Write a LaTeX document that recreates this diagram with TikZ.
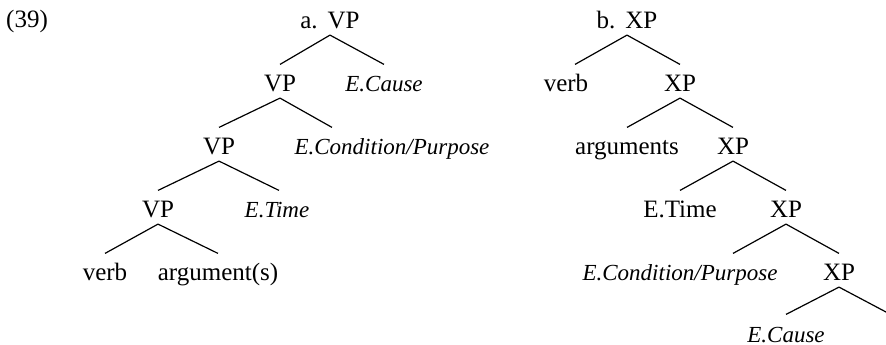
\documentclass[tikz,border=0pt]{standalone}
\usepackage{fontspec}
\setmainfont{Liberation Serif}

\begin{document}
\begin{tikzpicture}[x=0.5pt, y=-0.5pt, line width=0.6pt,
    every node/.style={font=\fontsize{12.5}{14}\selectfont, inner sep=0pt, text height=13pt, text depth=3.25pt, anchor=base},
    ex/.style={font=\fontsize{11.5}{14}\selectfont\itshape}]
    \useasboundingbox (0,0) rectangle (886,344);

    \node (exnum) at (27,27) {(39)};

    % tree a
    \node (aroot) at (330,28) {a.\hspace{0.4em}VP};
    \node (avp1) at (280,91) {VP};
    \node[ex] (acause) at (384,91) {E.Cause};
    \node (avp2) at (219,154) {VP};
    \node[ex] (acond) at (392,154) {E.Condition/Purpose};
    \node (avp3) at (158,217) {VP};
    \node[ex] (atime) at (277,217) {E.Time};
    \node (averb) at (105,280) {verb};
    \node (aargs) at (218,280) {argument(s)};

    \draw (aroot.south) -- (avp1.north);
    \draw (aroot.south) -- (acause.north);
    \draw (avp1.south) -- (avp2.north);
    \draw (avp1.south) -- ([xshift=-30pt]acond.north);
    \draw (avp2.south) -- (avp3.north);
    \draw (avp2.south) -- ([xshift=1pt]atime.north);
    \draw (avp3.south) -- (averb.north);
    \draw (avp3.south) -- (aargs.north);

    % tree b
    \node (broot) at (627,28) {b.\hspace{0.4em}XP};
    \node (bverb) at (566,91) {verb};
    \node (bxp1) at (680,91) {XP};
    \node (bargs) at (627,154) {arguments};
    \node (bxp2) at (733,154) {XP};
    \node (btime) at (680,217) {E.Time};
    \node (bxp3) at (786,217) {XP};
    \node[ex] (bcond) at (680,280) {E.Condition/Purpose};
    \node (bxp4) at (839,280) {XP};
    \node[ex] (bcause) at (786,342) {E.Cause};
    \coordinate (bend) at (886,312);

    \draw (broot.south) -- ([xshift=4.5pt]bverb.north);
    \draw (broot.south) -- (bxp1.north);
    \draw (bxp1.south) -- (bargs.north);
    \draw (bxp1.south) -- (bxp2.north);
    \draw (bxp2.south) -- (btime.north);
    \draw (bxp2.south) -- (bxp3.north);
    \draw (bxp3.south) -- ([xshift=26.5pt]bcond.north);
    \draw (bxp3.south) -- (bxp4.north);
    \draw (bxp4.south) -- ([yshift=0.5pt]bcause.north);
    \draw (bxp4.south) -- (bend);
\end{tikzpicture}
\end{document}
